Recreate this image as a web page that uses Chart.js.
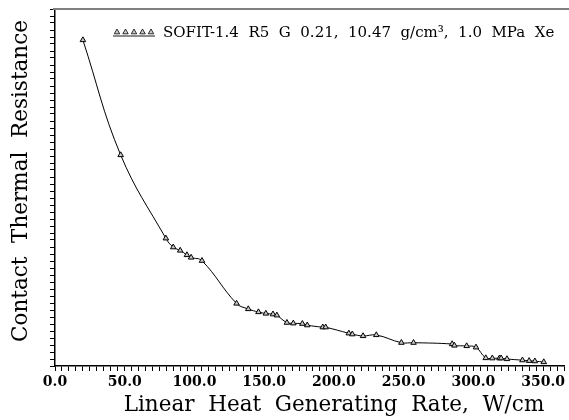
<!DOCTYPE html>
<html>
<head>
<meta charset="utf-8">
<script src="https://cdn.jsdelivr.net/npm/chart.js@4/dist/chart.umd.min.js"></script>
<style>
    html, body { margin: 0; padding: 0; background: #fff; }
    #wrap { width: 569px; height: 420px; }
</style>
</head>
<body>
<div id="wrap"><canvas id="chart"></canvas></div>
<script>
(function () {
    'use strict';

    // ── Data ──────────────────────────────────────────────────────────────────
    var rate = [20.0, 47.1, 79.5, 84.8, 89.8, 94.6, 97.6, 105.4, 130.2, 138.6,
                145.9, 151.2, 156.3, 159.1, 166.3, 170.9, 177.4, 180.9, 192.0, 194.1,
                210.7, 213.2, 220.9, 230.4, 248.4, 257.1, 284.8, 286.4, 295.2, 301.9,
                308.9, 313.6, 318.7, 319.9, 324.1, 335.2, 340.0, 344.1, 350.5];
    var resistance = [46.57, 30.14, 18.24, 16.97, 16.50, 15.86, 15.50, 15.04, 8.93, 8.14,
                      7.71, 7.50, 7.40, 7.24, 6.19, 6.10, 6.04, 5.83, 5.54, 5.54,
                      4.67, 4.54, 4.29, 4.43, 3.33, 3.33, 3.14, 2.93, 2.86, 2.67,
                      1.14, 1.11, 1.11, 1.11, 1.00, 0.83, 0.74, 0.69, 0.57];
    var xTickLabels = ['0.0', '50.0', '100.0', '150.0', '200.0', '250.0', '300.0', '350.0'];
    var seriesLabel = 'SOFIT-1.4  R5  G  0.21,  10.47  g/cm\u00B3,  1.0  MPa  Xe';
    var xTitle = 'Linear  Heat  Generating  Rate,  W/cm';
    var yTitle = 'Contact  Thermal  Resistance';

    var SERIF = '"DejaVu Serif", "Liberation Serif", serif';

    function triangle(ctx, x, y, r) {
        ctx.beginPath();
        ctx.moveTo(x, y - r);
        ctx.lineTo(x + r * 0.9, y + r * 0.6);
        ctx.lineTo(x - r * 0.9, y + r * 0.6);
        ctx.closePath();
        ctx.fill();
        ctx.stroke();
    }

    // ── Frame, legend and axis titles ─────────────────────────────────────────
    var decor = {
        id: 'decor',
        afterDraw: function (chart) {
            var ctx = chart.ctx;
            var a = chart.chartArea;
            ctx.save();

            // grey top rule
            ctx.strokeStyle = '#7f7f7f';
            ctx.lineWidth = 2;
            ctx.beginPath();
            ctx.moveTo(a.left - 2, a.top);
            ctx.lineTo(chart.width, a.top);
            ctx.stroke();

            // legend sample: five triangles over a line
            ctx.strokeStyle = '#666';
            ctx.lineWidth = 1.5;
            ctx.beginPath();
            ctx.moveTo(113, 36);
            ctx.lineTo(155, 36);
            ctx.stroke();
            ctx.fillStyle = '#ccc';
            ctx.strokeStyle = '#000';
            ctx.lineWidth = 0.8;
            for (var i = 0; i < 5; i++) triangle(ctx, 117 + i * 8.5, 32, 3);

            ctx.fillStyle = '#000';
            ctx.textAlign = 'left';
            ctx.textBaseline = 'alphabetic';
            ctx.font = '15px ' + SERIF;
            ctx.fillText(seriesLabel, 163, 37);

            // axis titles
            ctx.font = '21.5px ' + SERIF;
            ctx.textAlign = 'center';
            ctx.fillText(xTitle, 334, 411);

            ctx.translate(27, 181);
            ctx.rotate(-Math.PI / 2);
            ctx.fillText(yTitle, 0, 0);
            ctx.restore();
        }
    };

    new Chart(document.getElementById('chart').getContext('2d'), {
        type: 'line',
        data: {
            datasets: [{
                label: seriesLabel,
                data: rate.map(function (x, i) { return { x: x, y: resistance[i] }; }),
                borderColor: '#000',
                borderWidth: 1,
                tension: 0.4,
                pointStyle: 'triangle',
                pointRadius: 3.2,
                pointBackgroundColor: '#c8c8c8',
                pointBorderColor: '#000',
                pointBorderWidth: 1,
                clip: false,
            }],
        },
        options: {
            responsive: true,
            maintainAspectRatio: false,
            animation: false,
            events: [],
            layout: { padding: { left: 0, top: 9, right: 3, bottom: 0 } },
            plugins: {
                legend: { display: false },
                tooltip: { enabled: false },
            },
            scales: {
                x: {
                    type: 'linear',
                    min: 0,
                    max: 365,
                    border: { color: '#000', width: 1.5 },
                    grid: { drawOnChartArea: false, drawTicks: true, tickLength: 5, color: '#000' },
                    ticks: {
                        stepSize: 5,
                        autoSkip: false,
                        maxRotation: 0,
                        padding: 3,
                        color: '#000',
                        font: { family: SERIF, size: 14, weight: 'bold' },
                        callback: function (v) {
                            return v % 50 === 0 ? xTickLabels[v / 50] : '';
                        },
                    },
                    afterFit: function (s) { s.height = 54; },
                },
                y: {
                    type: 'linear',
                    min: 0,
                    max: 51,
                    border: { color: '#000', width: 1.5 },
                    grid: { drawOnChartArea: false, drawTicks: true, tickLength: 5, color: '#000' },
                    ticks: { stepSize: 1, display: false },
                    afterFit: function (s) { s.width = 55; },
                },
            },
        },
        plugins: [decor],
    });
})();
</script>
</body>
</html>
